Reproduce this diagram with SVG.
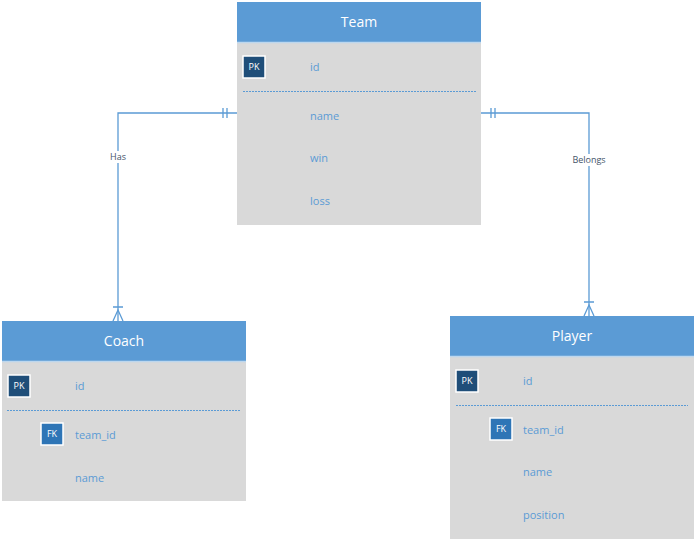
<svg xmlns="http://www.w3.org/2000/svg" width="696" height="541" viewBox="0 0 696 541">
<style>
.hdr{fill:#5b9bd5}
.body{fill:#d9d9d9}
.sep{stroke:#bdd7ee;stroke-width:1.5}
.title{font-family:"Open Sans","Noto Sans",sans-serif;font-size:14px;fill:#ffffff;text-anchor:middle}
.fld{font-family:"Open Sans","Noto Sans",sans-serif;font-size:11px;fill:#5b9bd5}
.pk{fill:#1f4e79;stroke:#ffffff;stroke-width:1.5}
.fk{fill:#2e75b6;stroke:#ffffff;stroke-width:1.5}
.key{font-family:"Open Sans","Noto Sans",sans-serif;font-size:9px;fill:#ffffff;text-anchor:middle}
.dash{stroke:#5b9bd5;stroke-width:1;stroke-dasharray:2 1}
.conn{fill:none;stroke:#5b9bd5;stroke-width:1.3}
.lbl{font-family:"Open Sans","Noto Sans",sans-serif;font-size:9px;fill:#44546a;text-anchor:middle}
</style>
<rect width="696" height="541" fill="#ffffff"/>
<g id="connectors">
  <g id="conn-has">
    <path class="conn" d="M237,113 H118 V321"/>
    <path class="conn" d="M223,108 V118 M227,108 V118"/>
    <path class="conn" d="M113,307 H123 M113,321 L118,310 L123,321"/>
    <rect x="107" y="151" width="22" height="12" fill="#ffffff"/>
    <text class="lbl" x="118" y="160">Has</text>
  </g>
  <g id="conn-belongs">
    <path class="conn" d="M481,113 H589 V316"/>
    <path class="conn" d="M491,108 V118 M495,108 V118"/>
    <path class="conn" d="M584,302 H594 M584,316 L589,305 L594,316"/>
    <rect x="571" y="154" width="36" height="12" fill="#ffffff"/>
    <text class="lbl" x="589" y="163">Belongs</text>
  </g>
</g>
<g id="team">
  <rect class="body" x="237" y="2" width="244" height="223"/>
  <rect class="hdr" x="237" y="2" width="244" height="40"/>
  <line class="sep" x1="237" y1="42.5" x2="481" y2="42.5"/>
  <text class="title" x="359" y="27">Team</text>
  <rect class="pk" x="243" y="56" width="22" height="22"/>
  <text class="key" x="254" y="70">PK</text>
  <text class="fld" x="310" y="71">id</text>
  <line class="dash" x1="243" y1="91.5" x2="477" y2="91.5"/>
  <text class="fld" x="310" y="120">name</text>
  <text class="fld" x="310" y="162">win</text>
  <text class="fld" x="310" y="205">loss</text>
</g>
<g id="coach">
  <rect class="body" x="2" y="321" width="244" height="180"/>
  <rect class="hdr" x="2" y="321" width="244" height="40"/>
  <line class="sep" x1="2" y1="361.5" x2="246" y2="361.5"/>
  <text class="title" x="124" y="346">Coach</text>
  <rect class="pk" x="8" y="375" width="22" height="22"/>
  <text class="key" x="19" y="389">PK</text>
  <text class="fld" x="75" y="390">id</text>
  <line class="dash" x1="7" y1="410.5" x2="240" y2="410.5"/>
  <rect class="fk" x="41" y="423" width="22" height="22"/>
  <text class="key" x="52" y="437">FK</text>
  <text class="fld" x="75" y="439">team_id</text>
  <text class="fld" x="75" y="482">name</text>
</g>
<g id="player">
  <rect class="body" x="450" y="316" width="244" height="223"/>
  <rect class="hdr" x="450" y="316" width="244" height="40"/>
  <line class="sep" x1="450" y1="356.5" x2="694" y2="356.5"/>
  <text class="title" x="572" y="341">Player</text>
  <rect class="pk" x="456" y="370" width="22" height="22"/>
  <text class="key" x="467" y="384">PK</text>
  <text class="fld" x="523" y="385">id</text>
  <line class="dash" x1="456" y1="405.5" x2="688" y2="405.5"/>
  <rect class="fk" x="490" y="418" width="22" height="22"/>
  <text class="key" x="501" y="432">FK</text>
  <text class="fld" x="523" y="434">team_id</text>
  <text class="fld" x="523" y="476">name</text>
  <text class="fld" x="523" y="519">position</text>
</g>
</svg>
